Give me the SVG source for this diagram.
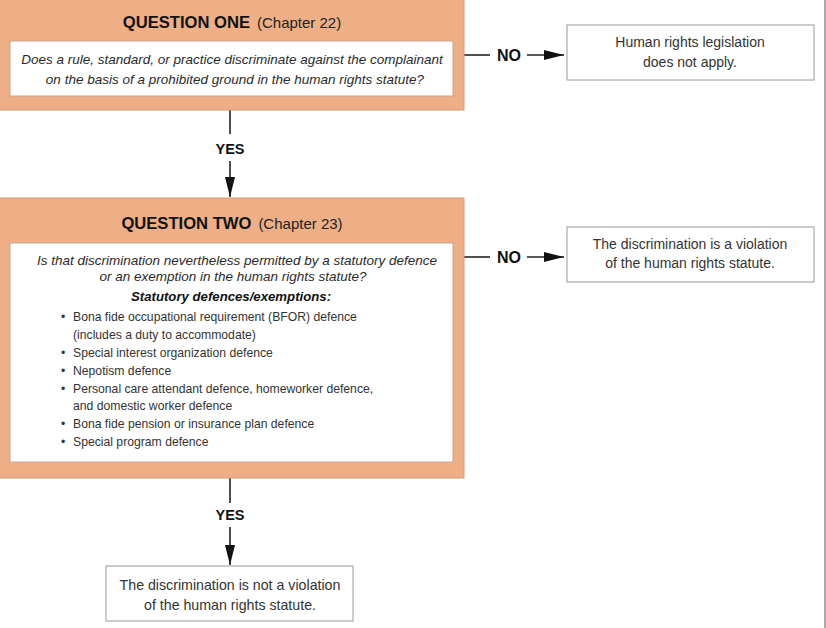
<svg xmlns="http://www.w3.org/2000/svg" width="826" height="628" viewBox="0 0 826 628">
<defs>
<style>
.q{fill:#EEAF86;stroke:#D99A72;stroke-width:1}
.inner{fill:#fff;stroke:#C9A58C;stroke-width:1}
.res{fill:#fff;stroke:#9a9a9a;stroke-width:1}
.title{font-family:"Liberation Sans",Arial,sans-serif;font-weight:bold;font-size:16.6px;fill:#111}
.chap{font-family:"Liberation Sans",Arial,sans-serif;font-size:15px;fill:#222}
.it{font-family:"Liberation Sans",Arial,sans-serif;font-style:italic;font-size:13.5px;fill:#2a2a2a}
.bi{font-family:"Liberation Sans",Arial,sans-serif;font-style:italic;font-weight:bold;font-size:13.2px;fill:#111}
.li{font-family:"Liberation Sans",Arial,sans-serif;font-size:12.2px;fill:#333}
.rt{font-family:"Liberation Sans",Arial,sans-serif;font-size:14px;fill:#333}
.bt{font-family:"Liberation Sans",Arial,sans-serif;font-size:14.2px;fill:#333}
.yes{font-family:"Liberation Sans",Arial,sans-serif;font-weight:bold;font-size:14.5px;fill:#111}
.no{font-family:"Liberation Sans",Arial,sans-serif;font-weight:bold;font-size:16px;fill:#111}
.ln{stroke:#222;stroke-width:1.6;fill:none}
</style>
<marker id="ah" viewBox="0 0 20 10" refX="20" refY="5" markerWidth="20" markerHeight="10" markerUnits="userSpaceOnUse" orient="auto">
<path d="M0,0 L20,5 L0,10 z" fill="#111"/>
</marker>
</defs>
<rect x="0" y="0" width="826" height="628" fill="#fff"/>
<line x1="825" y1="0" x2="825" y2="628" stroke="#aaaaaa" stroke-width="2"/>

<g id="connectors">
<line class="ln" x1="230" y1="110" x2="230" y2="134"/>
<line class="ln" x1="230" y1="161" x2="230" y2="197" marker-end="url(#ah)"/>
<line class="ln" x1="464" y1="55" x2="490" y2="55"/>
<line class="ln" x1="527" y1="55" x2="564" y2="55" marker-end="url(#ah)"/>
<line class="ln" x1="464" y1="257" x2="490" y2="257"/>
<line class="ln" x1="527" y1="257" x2="564" y2="257" marker-end="url(#ah)"/>
<line class="ln" x1="230" y1="478" x2="230" y2="503"/>
<line class="ln" x1="230" y1="527" x2="230" y2="565" marker-end="url(#ah)"/>
<text class="yes" x="230" y="154" text-anchor="middle">YES</text>
<text class="no" x="509" y="61" text-anchor="middle">NO</text>
<text class="no" x="509" y="263" text-anchor="middle">NO</text>
<text class="yes" x="230" y="520" text-anchor="middle">YES</text>
</g>

<g id="question-one">
<rect class="q" x="-2" y="-2" width="466" height="112"/>
<text x="232" y="28" text-anchor="middle"><tspan class="title">QUESTION ONE</tspan><tspan class="chap" dx="7">(Chapter 22)</tspan></text>
<rect class="inner" x="10" y="41" width="443" height="55"/>
<text class="it" x="232" y="64" text-anchor="middle">Does a rule, standard, or practice discriminate against the complainant</text>
<text class="it" x="235" y="84" text-anchor="middle">on the basis of a prohibited ground in the human rights statute?</text>
</g>

<g id="no-apply">
<rect class="res" x="567" y="25" width="247" height="55"/>
<text class="rt" x="690" y="47" text-anchor="middle">Human rights legislation</text>
<text class="rt" x="690" y="67" text-anchor="middle">does not apply.</text>
</g>

<g id="question-two">
<rect class="q" x="-2" y="198" width="466" height="280"/>
<text x="232" y="229" text-anchor="middle"><tspan class="title">QUESTION TWO</tspan><tspan class="chap" dx="7">(Chapter 23)</tspan></text>
<rect class="inner" x="10" y="243" width="443" height="219"/>
<text class="it" x="237" y="265" text-anchor="middle">Is that discrimination nevertheless permitted by a statutory defence</text>
<text class="it" x="233" y="281" text-anchor="middle">or an exemption in the human rights statute?</text>
<text class="bi" x="231" y="301" text-anchor="middle">Statutory defences/exemptions:</text>
<g class="li">
<text x="61" y="321">•</text><text x="73" y="321">Bona fide occupational requirement (BFOR) defence</text>
<text x="73" y="339">(includes a duty to accommodate)</text>
<text x="61" y="357">•</text><text x="73" y="357">Special interest organization defence</text>
<text x="61" y="375">•</text><text x="73" y="375">Nepotism defence</text>
<text x="61" y="393">•</text><text x="73" y="393">Personal care attendant defence, homeworker defence,</text>
<text x="73" y="410">and domestic worker defence</text>
<text x="61" y="428">•</text><text x="73" y="428">Bona fide pension or insurance plan defence</text>
<text x="61" y="446">•</text><text x="73" y="446">Special program defence</text>
</g>
</g>

<g id="violation">
<rect class="res" x="567" y="227" width="247" height="55"/>
<text class="rt" x="690" y="249" text-anchor="middle">The discrimination is a violation</text>
<text class="rt" x="690" y="268" text-anchor="middle">of the human rights statute.</text>
</g>

<g id="not-violation">
<rect class="res" x="106" y="566" width="247" height="55"/>
<text class="bt" x="230" y="590" text-anchor="middle">The discrimination is not a violation</text>
<text class="bt" x="230" y="610" text-anchor="middle">of the human rights statute.</text>
</g>
</svg>
